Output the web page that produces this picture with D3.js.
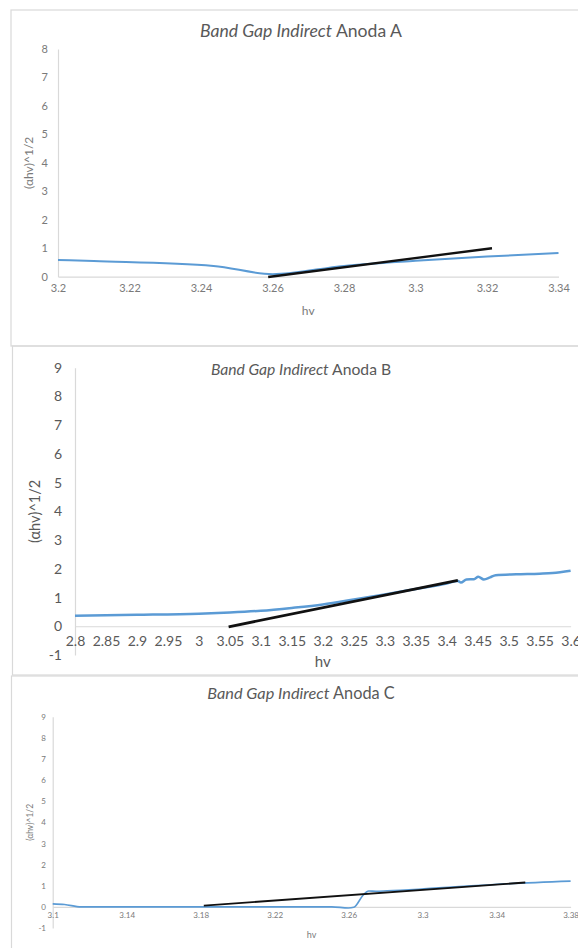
<!DOCTYPE html>
<html>
<head>
<meta charset="utf-8">
<script src="https://cdn.jsdelivr.net/npm/d3@7"></script>
<style>
  html, body { margin: 0; padding: 0; background: #ffffff; }
  svg { display: block; }
</style>
</head>
<body>
<div id="chart"></div>
<script>
// Measured curves for the three anodes, hv against (αhv)^1/2.
const anodaAHv = [3.2, 3.21, 3.2435, 3.26, 3.28, 3.3, 3.32, 3.34];
const anodaAVal = [0.59, 0.55, 0.38, 0.09, 0.38, 0.56, 0.71, 0.83];
const anodaAFitHv = [3.2588, 3.3214];
const anodaAFitVal = [-0.01, 1.0];

const anodaBHv = [2.8, 2.9, 3.0, 3.05, 3.1, 3.15, 3.2, 3.25, 3.3, 3.35, 3.4, 3.418, 3.423, 3.432, 3.444, 3.451, 3.46, 3.47, 3.479, 3.512, 3.55, 3.571, 3.6];
const anodaBVal = [0.37, 0.40, 0.44, 0.48, 0.54, 0.64, 0.76, 0.93, 1.11, 1.3, 1.49, 1.58, 1.52, 1.63, 1.64, 1.72, 1.63, 1.70, 1.78, 1.81, 1.83, 1.85, 1.93];
const anodaBFitHv = [3.048, 3.418];
const anodaBFitVal = [-0.02, 1.6];

const anodaCHv = [3.1, 3.1064, 3.1153, 3.13, 3.18, 3.22, 3.2509, 3.2598, 3.2628, 3.2678, 3.2708, 3.2748, 3.2808, 3.3007, 3.3406, 3.38];
const anodaCVal = [0.14, 0.11, 0, 0, 0, 0, 0, -0.05, -0.02, 0.55, 0.75, 0.74, 0.76, 0.85, 1.07, 1.22];
const anodaCFitHv = [3.1817, 3.3555];
const anodaCFitVal = [0.06, 1.15];

// Tick values per panel.
const xTicksA = [3.2, 3.22, 3.24, 3.26, 3.28, 3.3, 3.32, 3.34];
const yTicksA = [0, 1, 2, 3, 4, 5, 6, 7, 8];
const xTicksB = [2.8, 2.85, 2.9, 2.95, 3.0, 3.05, 3.1, 3.15, 3.2, 3.25, 3.3, 3.35, 3.4, 3.45, 3.5, 3.55, 3.6];
const yTicksB = [-1, 0, 1, 2, 3, 4, 5, 6, 7, 8, 9];
const xTicksC = [3.1, 3.14, 3.18, 3.22, 3.26, 3.3, 3.34, 3.38];
const yTicksC = [-1, 0, 1, 2, 3, 4, 5, 6, 7, 8, 9];

const titles = ["Anoda A", "Anoda B", "Anoda C"];

const W = 578, H = 948;
const FONT = "Lato, 'Open Sans', sans-serif";
const TEXT = "#595959";
const AXIS = "#d9d9d9";
const BLUE = "#5b9bd5";

const fmt = v => String(+v.toFixed(2));
const zip = (xs, ys) => xs.map((x, i) => ({ x, y: ys[i] }));

// Layout of each panel (frame, plot box, font sizes).
const panels = [
    {
        title: titles[0], frame: [11, 10, 336],
        xs: anodaAHv, ys: anodaAVal, fx: anodaAFitHv, fy: anodaAFitVal,
        xDomain: [3.2, 3.34], yDomain: [0, 8], xTicks: xTicksA, yTicks: yTicksA,
        left: 58, right: 558.5, top: 49, bottom: 276.7,
        tickFont: 11, tickColor: "#7a7a7a", titleFont: 17.6, titleY: 33, yLabelX: 48, xLabelDy: 15,
        hvY: 312, yTitleX: 29.5, yTitleFont: 12, lineW: 2
    },
    {
        title: titles[1], frame: [12.5, 346, 329],
        xs: anodaBHv, ys: anodaBVal, fx: anodaBFitHv, fy: anodaBFitVal,
        xDomain: [2.8, 3.6], yDomain: [-1, 9], xTicks: xTicksB, yTicks: yTicksB,
        left: 75, right: 570.6, top: 367.7, bottom: 655,
        tickFont: 14, tickColor: "#595959", titleFont: 15.7, titleY: 371, yLabelX: 62, xLabelDy: 20,
        hvY: 663, yTitleX: 36, yTitleFont: 14.5, lineW: 2.5
    },
    {
        title: titles[2], frame: [11.5, 676, 300],
        xs: anodaCHv, ys: anodaCVal, fx: anodaCFitHv, fy: anodaCFitVal,
        xDomain: [3.1, 3.38], yDomain: [-1, 9], xTicks: xTicksC, yTicks: yTicksC,
        left: 52.7, right: 570.6, top: 716.7, bottom: 928,
        tickFont: 8, tickColor: "#7a7a7a", titleFont: 16.3, titleY: 695, yLabelX: 46, xLabelDy: 11,
        hvY: 936, yTitleX: 30.5, yTitleFont: 8.5, lineW: 1.6
    }
];

const svg = d3.select("#chart")
    .append("svg")
    .attr("width", W)
    .attr("height", H)
    .style("font-family", FONT);

panels.forEach(p => {
    const g = svg.append("g");

    // Chart area frame
    g.append("rect")
        .attr("x", p.frame[0])
        .attr("y", p.frame[1])
        .attr("width", W + 20)
        .attr("height", p.frame[2])
        .attr("fill", "none")
        .attr("stroke", AXIS)
        .attr("stroke-width", 1.2);

    const x = d3.scaleLinear().domain(p.xDomain).range([p.left, p.right]);
    const y = d3.scaleLinear().domain(p.yDomain).range([p.bottom, p.top]);

    // Vertical axis: light line, no tick marks.
    const yAxis = g.append("g")
        .attr("transform", `translate(${p.left},0)`)
        .call(d3.axisLeft(y).tickValues(p.yTicks).tickSize(0).tickPadding(p.left - p.yLabelX).tickFormat(fmt));
    yAxis.select(".domain").attr("stroke", AXIS).attr("stroke-width", 1.2);
    yAxis.selectAll("text")
        .style("font-family", FONT)
        .style("font-size", `${p.tickFont}px`)
        .attr("fill", p.tickColor);

    // Horizontal axis sits on y = 0.
    const xAxis = g.append("g")
        .attr("transform", `translate(0,${y(0)})`)
        .call(d3.axisBottom(x).tickValues(p.xTicks).tickSize(0).tickPadding(0).tickFormat(fmt));
    xAxis.select(".domain").attr("stroke", AXIS).attr("stroke-width", 1.2);
    xAxis.selectAll("text")
        .attr("dy", null)
        .attr("y", p.xLabelDy)
        .style("font-family", FONT)
        .style("font-size", `${p.tickFont}px`)
        .attr("fill", p.tickColor);

    // Measured curve
    const line = d3.line()
        .x(d => x(d.x))
        .y(d => y(d.y))
        .curve(d3.curveMonotoneX);

    g.append("path")
        .datum(zip(p.xs, p.ys))
        .attr("d", line)
        .attr("fill", "none")
        .attr("stroke", BLUE)
        .attr("stroke-width", p.lineW)
        .attr("stroke-linejoin", "round");

    // Tangent (fit) line
    g.append("path")
        .datum(zip(p.fx, p.fy))
        .attr("d", d3.line().x(d => x(d.x)).y(d => y(d.y)))
        .attr("fill", "none")
        .attr("stroke", "#111111")
        .attr("stroke-width", p.lineW + 0.3);

    // Title: italic part + regular part
    const t = g.append("text")
        .attr("x", 301)
        .attr("y", p.titleY)
        .attr("text-anchor", "middle")
        .attr("dominant-baseline", "middle")
        .style("font-size", `${p.titleFont}px`)
        .attr("fill", TEXT);
    t.append("tspan").style("font-style", "italic").text("Band Gap Indirect");
    t.append("tspan").text(" " + p.title);

    // Axis titles
    g.append("text")
        .attr("x", (p.left + p.right) / 2)
        .attr("y", p.hvY)
        .attr("text-anchor", "middle")
        .attr("dominant-baseline", "middle")
        .style("font-size", `${p.tickFont + 1}px`)
        .attr("fill", p.tickColor)
        .text("hv");

    g.append("text")
        .attr("transform", `translate(${p.yTitleX},${(p.top + p.bottom) / 2}) rotate(-90)`)
        .attr("text-anchor", "middle")
        .attr("dominant-baseline", "middle")
        .style("font-size", `${p.yTitleFont}px`)
        .attr("fill", p.tickColor)
        .text("(αhv)^1/2");
});
</script>
</body>
</html>
